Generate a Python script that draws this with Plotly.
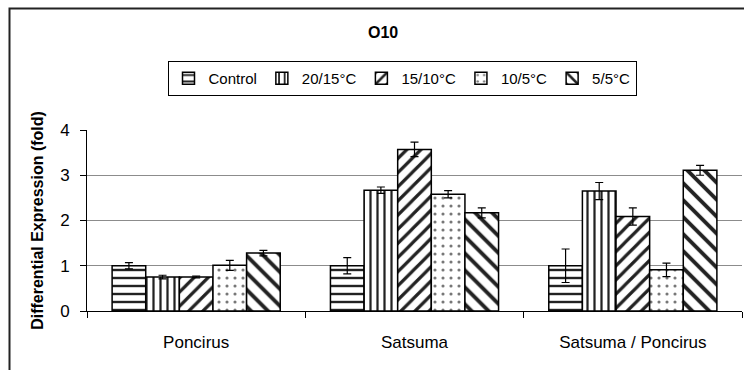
import plotly.graph_objects as go

categories = ["Poncirus", "Satsuma", "Satsuma / Poncirus"]
series_names = ["Control", "20/15°C", "15/10°C", "10/5°C", "5/5°C"]

control = [1.00, 1.00, 1.00]
t20_15 = [0.75, 2.67, 2.65]
t15_10 = [0.75, 3.57, 2.09]
t10_5 = [1.01, 2.58, 0.91]
t5_5 = [1.28, 2.17, 3.11]

err_control = [0.07, 0.18, 0.37]
err_20_15 = [0.04, 0.07, 0.19]
err_15_10 = [0.02, 0.16, 0.19]
err_10_5 = [0.11, 0.08, 0.15]
err_5_5 = [0.06, 0.11, 0.11]

values = [control, t20_15, t15_10, t10_5, t5_5]
errors = [err_control, err_20_15, err_15_10, err_10_5, err_5_5]

patterns = [
    dict(shape="-", fgcolor="#222222", fgopacity=1, bgcolor="white", size=8, solidity=0.3, fillmode="overlay"),
    dict(shape="|", fgcolor="#222222", fgopacity=1, bgcolor="white", size=7, solidity=0.32, fillmode="overlay"),
    dict(shape="/", fgcolor="#222222", fgopacity=1, bgcolor="white", size=10, solidity=0.32, fillmode="overlay"),
    dict(shape=".", fgcolor="#777777", fgopacity=1, bgcolor="white", size=8, solidity=0.12, fillmode="overlay"),
    dict(shape="\\", fgcolor="#222222", fgopacity=1, bgcolor="white", size=12, solidity=0.32, fillmode="overlay"),
]

FONT = "Liberation Sans, Arial, sans-serif"

fig = go.Figure()
for name, vals, errs, pat in zip(series_names, values, errors, patterns):
    fig.add_trace(go.Bar(
        name=name, x=categories, y=vals,
        marker=dict(color="white", line=dict(color="black", width=1.5), pattern=pat),
        error_y=dict(type="data", array=errs, visible=True, color="black", thickness=1.2, width=4),
    ))

W, H = 744, 370
ml, mr, mt, mb = 87, 2, 130, 59
pw, ph = W - ml - mr, H - mt - mb

def px_x(x):
    return (x - ml) / pw

def px_y(y):
    return (H - mb - y) / ph

fig.update_layout(
    width=W, height=H, autosize=False,
    margin=dict(l=ml, r=mr, t=mt, b=mb, pad=0),
    paper_bgcolor="white", plot_bgcolor="white",
    font=dict(family=FONT, size=16, color="black"),
    barmode="group", bargap=0.23, bargroupgap=0,
    showlegend=True,
    legend=dict(orientation="h", x=px_x(402), xanchor="center", y=px_y(61), yanchor="top",
                bordercolor="black", borderwidth=1, bgcolor="white",
                font=dict(family=FONT, size=15), traceorder="normal",
                itemwidth=30, tracegroupgap=0),
    xaxis=dict(showline=True, linecolor="black", linewidth=1, ticks="outside", tickson="boundaries",
               ticklen=6, tickcolor="black", showgrid=False, ticklabelstandoff=16,
               tickfont=dict(family=FONT, size=17)),
    yaxis=dict(range=[0, 4], dtick=1, showline=True, linecolor="black", linewidth=1,
               ticks="outside", ticklen=6, tickcolor="black", showgrid=True,
               gridcolor="#8c8c8c", gridwidth=1, zeroline=False, ticklabelstandoff=7,
               tickfont=dict(family=FONT, size=17),
               title=dict(text="<b>Differential Expression (fold)</b>", standoff=12,
                          font=dict(family=FONT, size=16))),
    annotations=[dict(text="<b>O10</b>", xref="paper", yref="paper", x=px_x(383), y=px_y(33),
                      xanchor="center", yanchor="middle", showarrow=False,
                      font=dict(family=FONT, size=16))],
    shapes=[dict(type="rect", xref="paper", yref="paper", x0=px_x(9.5), x1=1.2,
                 y0=-0.6, y1=px_y(8.5), line=dict(color="#222222", width=2), layer="below")],
)

fig.write_html("out.html")
